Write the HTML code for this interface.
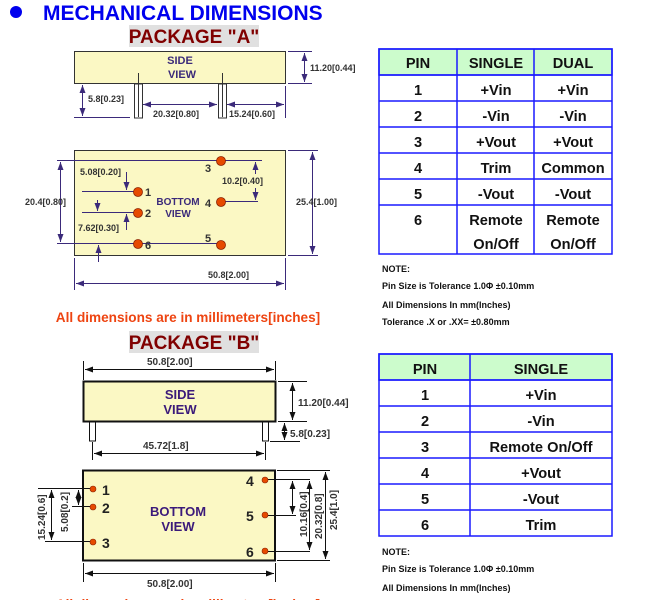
<!DOCTYPE html>
<html><head><meta charset="utf-8"><style>
html,body{margin:0;padding:0;background:#fff;width:650px;height:600px;overflow:hidden}
svg{display:block}
text{font-family:"Liberation Sans",Arial,sans-serif;font-weight:bold}
</style></head><body>
<svg width="650" height="600" viewBox="0 0 650 600" xmlns="http://www.w3.org/2000/svg">
<defs>
<marker id="ap" markerWidth="8" markerHeight="6" refX="8" refY="3" orient="auto-start-reverse" markerUnits="userSpaceOnUse"><path d="M0,0 L8,3 L0,6 z" fill="#3b2a7a"/></marker>
<marker id="ab" markerWidth="8" markerHeight="6" refX="8" refY="3" orient="auto-start-reverse" markerUnits="userSpaceOnUse"><path d="M0,0 L8,3 L0,6 z" fill="#111"/></marker>
</defs>
<!-- title -->
<circle cx="16" cy="12" r="6" fill="#0000ee"/>
<text x="43" y="20" font-size="21" fill="#0000ee">MECHANICAL DIMENSIONS</text>
<rect x="129" y="25" width="130" height="22" fill="#e0e0e0"/>
<text x="194" y="43" font-size="19" fill="#800000" text-anchor="middle">PACKAGE "A"</text>

<!-- Package A side -->
<g stroke="#3b2a7a" stroke-width="1" fill="none">
<rect x="74.5" y="51.5" width="211" height="32" fill="#fbf8c4" stroke="#333"/>
<rect x="134.5" y="84" width="8" height="34" fill="#fff" stroke="#333"/>
<rect x="218.5" y="84" width="8" height="34" fill="#fff" stroke="#333"/>
<line x1="138.5" y1="73" x2="138.5" y2="117" stroke="#333"/>
<line x1="222.5" y1="73" x2="222.5" y2="117" stroke="#333"/>
<line x1="288" y1="51.5" x2="312" y2="51.5"/><line x1="288" y1="83.5" x2="312" y2="83.5"/>
<line x1="304.5" y1="53" x2="304.5" y2="82" marker-start="url(#ap)" marker-end="url(#ap)"/>
<line x1="74" y1="117.5" x2="130" y2="117.5"/>
<line x1="82.5" y1="85" x2="82.5" y2="116" marker-start="url(#ap)" marker-end="url(#ap)"/>
<line x1="143" y1="104.5" x2="217" y2="104.5" marker-start="url(#ap)" marker-end="url(#ap)"/>
<line x1="227" y1="104.5" x2="284" y2="104.5" marker-start="url(#ap)" marker-end="url(#ap)"/>
<line x1="285.5" y1="86" x2="285.5" y2="118"/>
</g>
<text x="180" y="64" font-size="11" fill="#3b2a7a" text-anchor="middle">SIDE</text>
<text x="182" y="78" font-size="11" fill="#3b2a7a" text-anchor="middle">VIEW</text>
<text x="310" y="71" font-size="9" fill="#333">11.20[0.44]</text>
<text x="88" y="102" font-size="9" fill="#333">5.8[0.23]</text>
<text x="153" y="117" font-size="9" fill="#333">20.32[0.80]</text>
<text x="229" y="117" font-size="9" fill="#333">15.24[0.60]</text>

<!-- Package A bottom -->
<g stroke="#3b2a7a" stroke-width="1" fill="none">
<rect x="74.5" y="150.5" width="211" height="105" fill="#fbf8c4" stroke="#333"/>
<line x1="57" y1="160.5" x2="262" y2="160.5"/>
<line x1="57" y1="243.5" x2="222" y2="243.5"/>
<line x1="60.5" y1="162" x2="60.5" y2="242" marker-start="url(#ap)" marker-end="url(#ap)"/>
<line x1="82" y1="191.5" x2="138" y2="191.5"/>
<line x1="82" y1="212.5" x2="138" y2="212.5"/>
<line x1="126.5" y1="172" x2="126.5" y2="190" marker-end="url(#ap)"/>
<line x1="97.5" y1="200" x2="97.5" y2="211" marker-end="url(#ap)"/>
<line x1="126.5" y1="230" x2="126.5" y2="214" marker-end="url(#ap)"/>
<line x1="98.5" y1="262" x2="98.5" y2="245" marker-end="url(#ap)"/>
<line x1="222" y1="201.5" x2="258" y2="201.5"/>
<line x1="255.5" y1="174" x2="255.5" y2="162" marker-end="url(#ap)"/>
<line x1="255.5" y1="188" x2="255.5" y2="200" marker-end="url(#ap)"/>
<line x1="288" y1="150.5" x2="318" y2="150.5"/><line x1="288" y1="255.5" x2="318" y2="255.5"/>
<line x1="312.5" y1="152" x2="312.5" y2="254" marker-start="url(#ap)" marker-end="url(#ap)"/>
<line x1="74.5" y1="258" x2="74.5" y2="290"/><line x1="285.5" y1="258" x2="285.5" y2="290"/>
<line x1="76" y1="283.5" x2="284" y2="283.5" marker-start="url(#ap)" marker-end="url(#ap)"/>
</g>
<g fill="#e64a00" stroke="#8a2000" stroke-width="0.8">
<circle cx="221" cy="161" r="4.5"/><circle cx="138" cy="192" r="4.5"/><circle cx="221" cy="202" r="4.5"/>
<circle cx="138" cy="213" r="4.5"/><circle cx="138" cy="244" r="4.5"/><circle cx="221" cy="245" r="4.5"/>
</g>
<g font-size="11" fill="#333">
<text x="205" y="172">3</text><text x="145" y="196">1</text><text x="205" y="207">4</text>
<text x="145" y="217">2</text><text x="145" y="249">6</text><text x="205" y="242">5</text>
</g>
<text x="178" y="205" font-size="10" fill="#3b2a7a" text-anchor="middle">BOTTOM</text>
<text x="178" y="217" font-size="10" fill="#3b2a7a" text-anchor="middle">VIEW</text>
<g font-size="9" fill="#333">
<text x="80" y="175">5.08[0.20]</text>
<text x="78" y="231">7.62[0.30]</text>
<text x="222" y="184">10.2[0.40]</text>
<text x="25" y="205">20.4[0.80]</text>
<text x="296" y="205">25.4[1.00]</text>
<text x="208" y="278">50.8[2.00]</text>
</g>

<text x="188" y="322" font-size="13.6" fill="#ee4411" text-anchor="middle">All dimensions are in millimeters[inches]</text>
<rect x="129" y="331" width="130" height="22" fill="#e0e0e0"/>
<text x="194" y="349" font-size="19" fill="#800000" text-anchor="middle">PACKAGE "B"</text>

<!-- Package B side -->
<g stroke="#111" stroke-width="1" fill="none">
<line x1="83.5" y1="361" x2="83.5" y2="380"/><line x1="275.5" y1="361" x2="275.5" y2="380"/>
<line x1="85" y1="369.5" x2="274" y2="369.5" marker-start="url(#ab)" marker-end="url(#ab)"/>
<rect x="83.5" y="381.5" width="192" height="40" fill="#fbf8c4" stroke-width="2"/>
<rect x="89.5" y="422" width="6" height="19" fill="#fff"/>
<rect x="262.5" y="422" width="6" height="19" fill="#fff"/>
<line x1="278" y1="381.5" x2="307" y2="381.5"/><line x1="278" y1="421.5" x2="307" y2="421.5"/>
<line x1="292.5" y1="383" x2="292.5" y2="420" marker-start="url(#ab)" marker-end="url(#ab)"/>
<line x1="270" y1="441.5" x2="300" y2="441.5"/>
<line x1="284.5" y1="423" x2="284.5" y2="440" marker-start="url(#ab)" marker-end="url(#ab)"/>
<line x1="92.5" y1="442" x2="92.5" y2="460"/><line x1="265.5" y1="442" x2="265.5" y2="460"/>
<line x1="94" y1="453.5" x2="264" y2="453.5" marker-start="url(#ab)" marker-end="url(#ab)"/>
</g>
<text x="180" y="399" font-size="13" fill="#3b1a7a" text-anchor="middle">SIDE</text>
<text x="180" y="414" font-size="13" fill="#3b1a7a" text-anchor="middle">VIEW</text>
<text x="147" y="365" font-size="10" fill="#333">50.8[2.00]</text>
<text x="298" y="406" font-size="10" fill="#333">11.20[0.44]</text>
<text x="290" y="437" font-size="10" fill="#333">5.8[0.23]</text>
<text x="143" y="449" font-size="10" fill="#333">45.72[1.8]</text>

<!-- Package B bottom -->
<g stroke="#111" stroke-width="1" fill="none">
<rect x="83" y="470.5" width="192" height="90" fill="#fbf8c4" stroke-width="2"/>
<line x1="38" y1="488.5" x2="92" y2="488.5"/>
<line x1="72" y1="506.5" x2="92" y2="506.5"/>
<line x1="45" y1="541.5" x2="92" y2="541.5"/>
<line x1="78.5" y1="490" x2="78.5" y2="505" marker-start="url(#ab)" marker-end="url(#ab)"/>
<line x1="51.5" y1="490" x2="51.5" y2="540" marker-start="url(#ab)" marker-end="url(#ab)"/>
<line x1="266" y1="479.5" x2="310" y2="479.5"/>
<line x1="266" y1="515.5" x2="296" y2="515.5"/>
<line x1="266" y1="551.5" x2="310" y2="551.5"/>
<line x1="277" y1="470.5" x2="330" y2="470.5"/><line x1="277" y1="560.5" x2="330" y2="560.5"/>
<line x1="292.5" y1="481" x2="292.5" y2="514" marker-start="url(#ab)" marker-end="url(#ab)"/>
<line x1="309.5" y1="481" x2="309.5" y2="550" marker-start="url(#ab)" marker-end="url(#ab)"/>
<line x1="325.5" y1="472" x2="325.5" y2="559" marker-start="url(#ab)" marker-end="url(#ab)"/>
<line x1="83.5" y1="563" x2="83.5" y2="582"/><line x1="275.5" y1="563" x2="275.5" y2="582"/>
<line x1="85" y1="573.5" x2="274" y2="573.5" marker-start="url(#ab)" marker-end="url(#ab)"/>
</g>
<g fill="#e64a00" stroke="#8a2000" stroke-width="0.6">
<circle cx="93" cy="489" r="3"/><circle cx="93" cy="507" r="3"/><circle cx="93" cy="542" r="3"/>
<circle cx="265" cy="480" r="3"/><circle cx="265" cy="515" r="3"/><circle cx="265" cy="551" r="3"/>
</g>
<g font-size="14" fill="#222">
<text x="102" y="495">1</text><text x="102" y="513">2</text><text x="102" y="548">3</text>
<text x="246" y="486">4</text><text x="246" y="521">5</text><text x="246" y="557">6</text>
</g>
<text x="178" y="516" font-size="13" fill="#3b1a7a" text-anchor="middle">BOTTOM</text>
<text x="178" y="531" font-size="13" fill="#3b1a7a" text-anchor="middle">VIEW</text>
<g font-size="10" fill="#333">
<text transform="translate(45,540) rotate(-90)">15.24[0.6]</text>
<text transform="translate(68,532) rotate(-90)">5.08[0.2]</text>
<text transform="translate(307,537) rotate(-90)">10.16[0.4]</text>
<text transform="translate(322,539) rotate(-90)">20.32[0.8]</text>
<text transform="translate(337,530) rotate(-90)">25.4[1.0]</text>
<text x="147" y="587">50.8[2.00]</text>
</g>
<text x="188" y="609" font-size="13.6" fill="#ee4411" text-anchor="middle">All dimensions are in millimeters[inches]</text>

<!-- Table A -->
<g stroke="#1a1aff" stroke-width="1.5" fill="none">
<rect x="379" y="49" width="233" height="26" fill="#ccfccc"/>
<rect x="379" y="49" width="233" height="205"/>
<line x1="457" y1="49" x2="457" y2="254"/><line x1="534" y1="49" x2="534" y2="254"/>
<line x1="379" y1="75" x2="612" y2="75"/><line x1="379" y1="101" x2="612" y2="101"/>
<line x1="379" y1="127" x2="612" y2="127"/><line x1="379" y1="153" x2="612" y2="153"/>
<line x1="379" y1="179" x2="612" y2="179"/><line x1="379" y1="205" x2="612" y2="205"/>
</g>
<g font-size="14.6" fill="#111" text-anchor="middle">
<text x="418" y="68">PIN</text><text x="496" y="68">SINGLE</text><text x="573" y="68">DUAL</text>
<text x="418" y="95">1</text><text x="496" y="95">+Vin</text><text x="573" y="95">+Vin</text>
<text x="418" y="121">2</text><text x="496" y="121">-Vin</text><text x="573" y="121">-Vin</text>
<text x="418" y="147">3</text><text x="496" y="147">+Vout</text><text x="573" y="147">+Vout</text>
<text x="418" y="173">4</text><text x="496" y="173">Trim</text><text x="573" y="173">Common</text>
<text x="418" y="199">5</text><text x="496" y="199">-Vout</text><text x="573" y="199">-Vout</text>
<text x="418" y="225">6</text><text x="496" y="225">Remote</text><text x="573" y="225">Remote</text>
<text x="496" y="249">On/Off</text><text x="573" y="249">On/Off</text>
</g>
<g font-size="9" fill="#111">
<text x="382" y="272">NOTE:</text>
<text x="382" y="289">Pin Size is Tolerance 1.0Φ  ±0.10mm</text>
<text x="382" y="308">All Dimensions In mm(Inches)</text>
<text x="382" y="325">Tolerance .X    or    .XX=  ±0.80mm</text>
</g>

<!-- Table B -->
<g stroke="#1a1aff" stroke-width="1.5" fill="none">
<rect x="379" y="354" width="233" height="26" fill="#ccfccc"/>
<rect x="379" y="354" width="233" height="182"/>
<line x1="470" y1="354" x2="470" y2="536"/>
<line x1="379" y1="380" x2="612" y2="380"/><line x1="379" y1="406" x2="612" y2="406"/>
<line x1="379" y1="432" x2="612" y2="432"/><line x1="379" y1="458" x2="612" y2="458"/>
<line x1="379" y1="484" x2="612" y2="484"/><line x1="379" y1="510" x2="612" y2="510"/>
</g>
<g font-size="14.6" fill="#111" text-anchor="middle">
<text x="425" y="374">PIN</text><text x="541" y="374">SINGLE</text>
<text x="425" y="400">1</text><text x="541" y="400">+Vin</text>
<text x="425" y="426">2</text><text x="541" y="426">-Vin</text>
<text x="425" y="452">3</text><text x="541" y="452">Remote On/Off</text>
<text x="425" y="478">4</text><text x="541" y="478">+Vout</text>
<text x="425" y="504">5</text><text x="541" y="504">-Vout</text>
<text x="425" y="530">6</text><text x="541" y="530">Trim</text>
</g>
<g font-size="9" fill="#111">
<text x="382" y="555">NOTE:</text>
<text x="382" y="572">Pin Size is Tolerance 1.0Φ  ±0.10mm</text>
<text x="382" y="591">All Dimensions In mm(Inches)</text>
</g>
</svg>
</body></html>
